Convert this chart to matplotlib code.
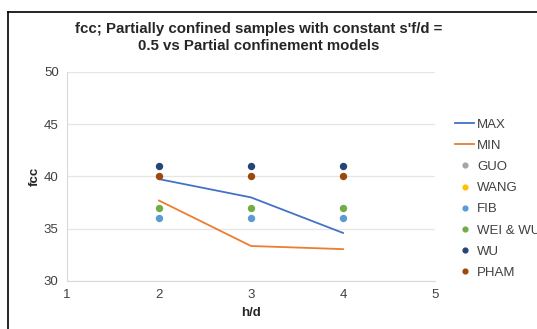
import matplotlib.pyplot as plt
from matplotlib.lines import Line2D

plt.rcParams['font.family'] = ['Liberation Sans', 'DejaVu Sans']

# h/d values and fcc series
hd = [2, 3, 4]
fcc_max = [39.75, 38.0, 34.6]
fcc_min = [37.7, 33.35, 33.05]

guo = []
wang = []
fib = [36, 36, 36]
wei_wu = [37, 37, 37]
wu = [41, 41, 41]
pham = [40, 40, 40]

x_ticks = [1, 2, 3, 4, 5]
y_ticks = [30, 35, 40, 45, 50]

fig = plt.figure(figsize=(5.37, 3.29), dpi=100)
ax = fig.add_axes([67 / 537, 1 - 281 / 329, (435 - 67) / 537, (281 - 72) / 329])

ax.plot(hd, fcc_max, color='#4472C4', lw=1.3, label='MAX')
ax.plot(hd, fcc_min, color='#ED7D31', lw=1.3, label='MIN')

dots = [
    ('GUO', guo, '#A5A5A5'),
    ('WANG', wang, '#FFC000'),
    ('FIB', fib, '#5B9BD5'),
    ('WEI & WU', wei_wu, '#70AD47'),
    ('WU', wu, '#264478'),
    ('PHAM', pham, '#9E480E'),
]
for name, vals, col in dots:
    xs = hd[:len(vals)]
    ax.plot(xs, vals, ls='none', marker='o', ms=4.3, color=col, label=name)

ax.set_xlim(1, 5)
ax.set_ylim(30, 50)
ax.set_xticks(x_ticks)
ax.set_yticks(y_ticks)
ax.tick_params(length=0, labelsize=9.5, colors='#404040', pad=6)
ax.grid(axis='y', color='#E6E6E6', lw=0.9)
ax.set_axisbelow(True)
for side in ['top', 'right']:
    ax.spines[side].set_visible(False)
ax.spines['left'].set_color('#D9D9D9')
ax.spines['bottom'].set_color('#D9D9D9')

ax.set_xlabel('h/d', fontsize=9.5, fontweight='bold', color='#262626', labelpad=4)
ax.set_ylabel('fcc', fontsize=9.5, fontweight='bold', color='#262626', labelpad=2)

fig.text(259 / 537, 1 - 37.5 / 329,
         "fcc; Partially confined samples with constant s'f/d =\n0.5 vs Partial confinement models",
         ha='center', va='center', fontsize=10.8, fontweight='bold', color='#262626',
         linespacing=1.2)

leg = ax.legend(loc='upper left', bbox_to_anchor=(450 / 537, 1 - 113 / 329),
                bbox_transform=fig.transFigure, frameon=False, fontsize=9.5,
                handlelength=1.45, handletextpad=0.2, labelspacing=0.68,
                borderaxespad=0, markerscale=0.8)
for t in leg.get_texts():
    t.set_color('#404040')

# outer frame of the chart area
fig.add_artist(Line2D([8 / 537, 8 / 537], [0, 1 - 12 / 329], color='black', lw=1.2,
                      transform=fig.transFigure))
fig.add_artist(Line2D([8 / 537, 1], [1 - 12 / 329, 1 - 12 / 329], color='black', lw=1.2,
                      transform=fig.transFigure))

fig.savefig('out.png', dpi=100)
